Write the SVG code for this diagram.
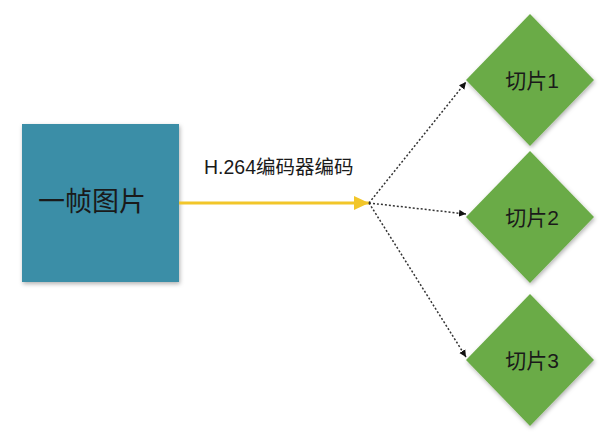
<svg xmlns="http://www.w3.org/2000/svg" width="616" height="437" viewBox="0 0 616 437">
  <style>
    .label { font-family: "Liberation Sans", "Noto Sans CJK SC", sans-serif; fill: #1a1a1a; }
    .frame { fill: #3b8ea7; }
    .slice { fill: #6aab46; }
    .dotted { stroke: #333; stroke-width: 1.5; stroke-dasharray: 2 2; fill: none; }
  </style>
  <defs>
    <filter id="shadow" x="-20%" y="-20%" width="140%" height="140%">
      <feDropShadow dx="1" dy="2" stdDeviation="2" flood-color="#000" flood-opacity="0.3"/>
    </filter>
    <marker id="dotHead" markerWidth="8" markerHeight="8" refX="7" refY="4" orient="auto" markerUnits="userSpaceOnUse">
      <path d="M0,0.5 L7,4 L0,7.5 Z" fill="#111"/>
    </marker>
    <marker id="yellowHead" markerWidth="16" markerHeight="14" refX="15" refY="7" orient="auto" markerUnits="userSpaceOnUse">
      <path d="M0,0 L15,7 L0,14 Z" fill="#f2c629"/>
    </marker>
  </defs>

  <g id="frame">
    <rect class="frame" x="22" y="124" width="157" height="158" filter="url(#shadow)"/>
    <text class="label" x="92" y="211" font-size="27" text-anchor="middle">一帧图片</text>
  </g>

  <g id="slice1">
    <polygon class="slice" points="530,14 594,80 530,146 466,80" filter="url(#shadow)"/>
    <text class="label" x="532" y="88" font-size="21" text-anchor="middle">切片1</text>
  </g>
  <g id="slice2">
    <polygon class="slice" points="530,151 594,217 530,283 466,217" filter="url(#shadow)"/>
    <text class="label" x="532" y="225" font-size="21" text-anchor="middle">切片2</text>
  </g>
  <g id="slice3">
    <polygon class="slice" points="530,294 594,360 530,426 466,360" filter="url(#shadow)"/>
    <text class="label" x="532" y="368" font-size="21" text-anchor="middle">切片3</text>
  </g>

  <g id="connectors">
    <line x1="179" y1="203" x2="369" y2="203" stroke="#f2c629" stroke-width="3" marker-end="url(#yellowHead)"/>
    <text class="label" x="204" y="174" font-size="19.5">H.264编码器编码</text>
    <line class="dotted" x1="369" y1="203" x2="466" y2="82" marker-end="url(#dotHead)"/>
    <line class="dotted" x1="369" y1="203" x2="466" y2="214" marker-end="url(#dotHead)"/>
    <line class="dotted" x1="369" y1="203" x2="466" y2="357" marker-end="url(#dotHead)"/>
  </g>
</svg>
